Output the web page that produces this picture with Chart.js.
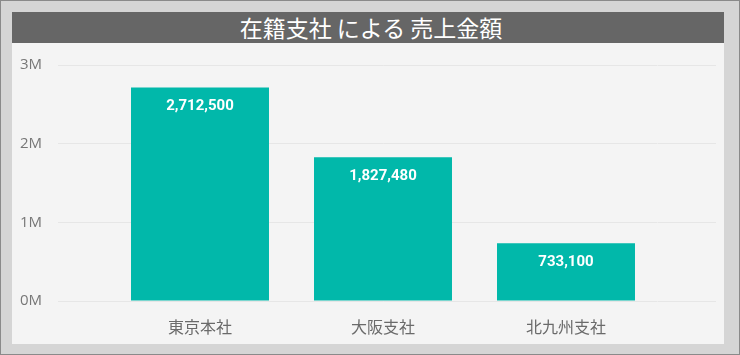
<!DOCTYPE html>
<html><head><meta charset="utf-8">
<script src="https://cdn.jsdelivr.net/npm/chart.js@4.4.1/dist/chart.umd.min.js"></script>
<style>
html,body{margin:0;padding:0;background:#d4d4d4;}
#frame{position:relative;width:740px;height:355px;box-sizing:border-box;border:1px solid #8a8a8a;background:#d5d5d5;}
#panel{position:absolute;left:11px;top:11px;width:712px;height:332px;background:#f4f4f4;}
#title{height:31px;background:#666666;color:#fff;font-family:"Noto Sans CJK JP","Noto Sans",sans-serif;font-size:23px;line-height:31px;text-align:center;font-weight:400;padding-left:6px;box-sizing:border-box;}
#wrap{position:relative;width:712px;height:301px;}
</style></head>
<body>
<div id="frame"><div id="panel"><div id="title">在籍支社 による 売上金額</div><div id="wrap"><canvas id="c"></canvas></div></div></div>
<script>
const categories = ["東京本社", "大阪支社", "北九州支社"];
const sales = [2712500, 1827480, 733100];
const yTicks = [0, 1000000, 2000000, 3000000];
const yTickLabels = ["0M", "1M", "2M", "3M"];

const valueLabels = {
  id: 'valueLabels',
  afterDatasetsDraw(chart) {
    const ctx = chart.ctx;
    const meta = chart.getDatasetMeta(0);
    ctx.save();
    ctx.fillStyle = '#ffffff';
    ctx.font = 'bold 15px Roboto, "DejaVu Sans", sans-serif';
    ctx.textAlign = 'center';
    ctx.textBaseline = 'middle';
    meta.data.forEach((bar, i) => {
      ctx.fillText(sales[i].toLocaleString('en-US'), bar.x, bar.y + 19);
    });
    ctx.restore();
  }
};

new Chart(document.getElementById('c'), {
  type: 'bar',
  data: {
    labels: categories,
    datasets: [{
      data: sales,
      backgroundColor: '#01b8aa',
      borderWidth: 0,
      categoryPercentage: 1,
      barPercentage: 0.754,
      yAxisID: 'y'
    }]
  },
  options: {
    responsive: true,
    maintainAspectRatio: false,
    animation: false,
    layout: { padding: { top: 22, bottom: 0, left: 0, right: 0 } },
    plugins: { legend: { display: false }, tooltip: { enabled: false }, title: { display: false } },
    scales: {
      x: {
        afterFit(scale) { scale.height = 43; },
        grid: { display: false, drawTicks: false },
        border: { display: false },
        ticks: { color: '#6a6a6a', padding: 16, font: { family: '"Noto Sans CJK JP", sans-serif', size: 16 } }
      },
      y: {
        position: 'left',
        min: 0, max: 3000000,
        afterBuildTicks(scale) { scale.ticks = yTicks.map(v => ({ value: v })); },
        afterFit(scale) { scale.width = 96.5; scale.paddingTop = 0; scale.paddingBottom = 0; },
        grid: { color: '#e6e6e6', lineWidth: 1, drawTicks: true, tickLength: 50.5, tickColor: '#e6e6e6' },
        border: { display: false },
        ticks: {
          padding: 16, color: '#777777',
          font: { family: '"Open Sans", sans-serif', size: 15 },
          callback(value) { return yTickLabels[yTicks.indexOf(value)]; }
        }
      },
      y2: {
        position: 'right',
        min: 0, max: 3000000,
        afterBuildTicks(scale) { scale.ticks = yTicks.map(v => ({ value: v })); },
        afterFit(scale) { scale.width = 66.5; scale.paddingTop = 0; scale.paddingBottom = 0; },
        grid: { color: '#e6e6e6', drawOnChartArea: false, drawTicks: true, tickLength: 58.5, tickColor: '#e6e6e6' },
        border: { display: false },
        ticks: { display: false }
      }
    }
  },
  plugins: [valueLabels]
});
</script>
</body></html>
